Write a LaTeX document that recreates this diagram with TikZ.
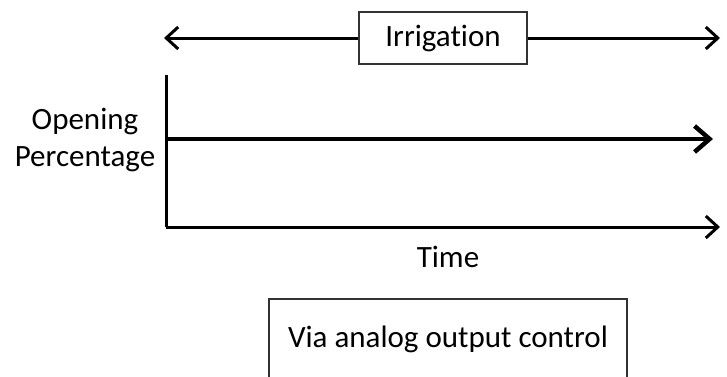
\documentclass[tikz,border=0pt]{standalone}
\usepackage{fontspec}
\setmainfont[Ligatures=NoCommon]{Carlito}
\usetikzlibrary{arrows.meta}

\begin{document}
\begin{tikzpicture}[x=1pt,y=1pt,
    txt/.style={font=\fontsize{31}{37}\selectfont,inner sep=0pt},
    box/.style={draw=black!80,line width=1.8pt,txt},
    axis/.style={line width=3pt},
    tip/.style={-{Straight Barb[length=12pt,width=22pt,line width=3pt]}}]
      \useasboundingbox (0,0) rectangle (727,376);

      \node[box,minimum width=168,minimum height=52] (irr) at (443,338) {Irrigation};
      \coordinate (l) at (164,338);
      \coordinate (r) at (720,338);

      \coordinate (o) at (166,149);
      \coordinate (top) at (166,301);
      \coordinate (m0) at (166,237);
      \coordinate (m1) at (713,237);
      \coordinate (t1) at (720,149);

      \node[txt,align=center] (pct) at (85,236) {Opening\\Percentage};
      \node[txt] (time) at (448,119) {Time};
      \node[box,minimum width=358,minimum height=80,anchor=north] (via) at (448,78) {Via analog output control};

      \draw[axis,tip] (irr) -- (l);
      \draw[axis,tip] (irr) -- (r);
      \draw[axis] (top) -- (o);
      \draw[axis,tip] (o) -- (t1);
      \draw[line width=4.5pt,-{Straight Barb[length=15pt,width=26pt,line width=4.5pt]}] (m0) -- (m1);
    \end{tikzpicture}
\end{document}
